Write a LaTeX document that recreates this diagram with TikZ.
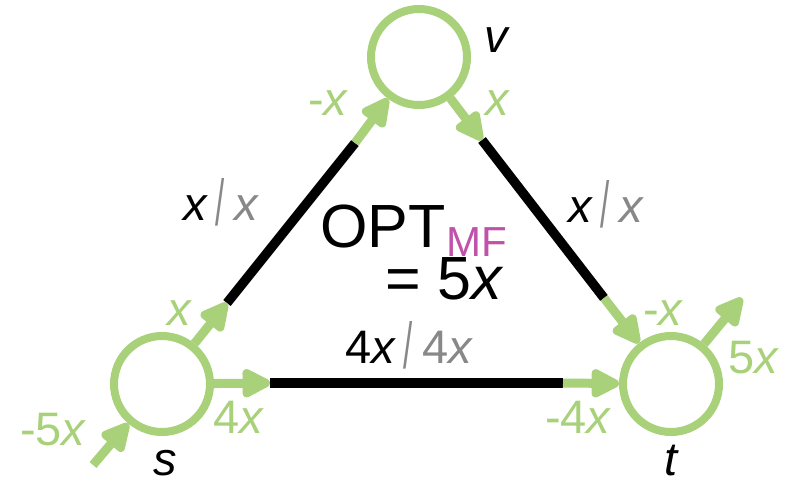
\documentclass[tikz,border=0pt]{standalone}
\usepackage{fontspec}
\usepackage{graphicx}
\setmainfont{Liberation Sans}
\usetikzlibrary{arrows.meta}
\definecolor{flowgreen}{RGB}{168,209,122}
\definecolor{capgray}{RGB}{136,136,136}
\definecolor{mfpink}{RGB}{192,82,170}
\newcommand{\ix}{\textit{x}}
\newcommand{\slsh}{\textcolor{capgray}{\hspace{0.16em}\raisebox{-0.12em}{\scalebox{0.7}[1.38]{/}}\hspace{0.2em}}}
\begin{document}
\begin{tikzpicture}[x=1pt,y=-1pt,
  vert/.style={circle,draw=flowgreen,line width=8pt,minimum size=96pt,inner sep=0pt,fill=white},
  edge/.style={draw=black,line width=9.5pt},
  garrow/.style={draw=flowgreen,line width=9pt,-{Triangle[length=33pt,width=31pt,round]},fill=flowgreen},
  lab/.style={inner sep=0pt,anchor=base west,font=\fontsize{47}{50}\selectfont},
  glab/.style={lab,text=flowgreen},
  big/.style={inner sep=0pt,anchor=base west,font=\fontsize{61}{64}\selectfont}
]
\useasboundingbox (0,0) rectangle (786,477);
% vertices
\node[vert] (s) at (162,384) {};
\node[vert] (v) at (419,57) {};
\node[vert] (t) at (671,384) {};
% edge end points
\coordinate (sv1) at (227,303);
\coordinate (sv2) at (355,143);
\coordinate (vt1) at (482,140);
\coordinate (vt2) at (604,298);
\coordinate (st1) at (270,383);
\coordinate (st2) at (563,383);
\coordinate (src) at (93,465);
\coordinate (snk) at (742,298);
% black edges
\draw[edge] (sv1) -- (sv2);
\draw[edge] (vt1) -- (vt2);
\draw[edge] (st1) -- (st2);
% flow arrows
\draw[garrow] (s) -- (sv1);
\draw[garrow] (sv2) -- (v);
\draw[garrow] (v) -- (vt1);
\draw[garrow] (vt2) -- (t);
\draw[garrow] (s) -- (st1);
\draw[garrow] (st2) -- (t);
\draw[garrow] (src) -- (s);
\draw[garrow] (t) -- (snk);
% vertex labels
\node[lab] (lv) at (484,52) {\textit{v}};
\node[lab] (ls) at (153,475) {\textit{s}};
\node[lab] (lt) at (664,475) {\textit{t}};
% flow labels
\node[glab] (f1) at (20,445) {-5\ix};
\node[glab] (f2) at (213,433) {4\ix};
\node[glab] (f3) at (167,325) {\ix};
\node[glab] (f4) at (308,115) {-\ix};
\node[glab] (f5) at (485,115) {\ix};
\node[glab] (f6) at (643,325) {-\ix};
\node[glab] (f7) at (728,373) {5\ix};
\node[glab] (f8) at (545,433) {-4\ix};
% capacity labels
\node[lab] (c1) at (183,220) {\ix\slsh\textcolor{capgray}{\ix}};
\node[lab] (c2) at (568,222) {\ix\slsh\textcolor{capgray}{\ix}};
\node[lab] (c3) at (345,363) {4\ix\slsh\textcolor{capgray}{4\ix}};
% OPT
\node[big] (opt) at (320,247) {OPT};
\node[inner sep=0pt,anchor=base west,font=\fontsize{42}{44}\selectfont,text=mfpink] (mf) at (446,256) {MF};
\node[big] (eq) at (385,299) {= 5\ix};
\end{tikzpicture}
\end{document}
